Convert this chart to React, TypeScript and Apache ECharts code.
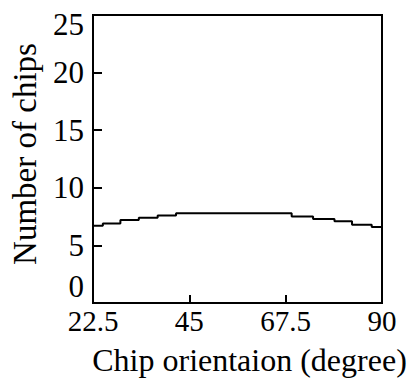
import React, { useEffect, useRef } from "react";
import * as echarts from "echarts";

const xTicks = [22.5, 45, 67.5, 90];
const yTicks = [0, 5, 10, 15, 20, 25];
const orientation = [22.5, 24.8, 28.9, 33.2, 37.6, 41.9, 68.9, 73.9, 78.9, 83.0, 87.6, 90];
const chips = [6.7, 6.9, 7.2, 7.4, 7.6, 7.8, 7.5, 7.3, 7.1, 6.8, 6.6, 6.6];

const FONT = "Liberation Serif";

export default function App() {
  const ref = useRef<HTMLDivElement>(null);
  useEffect(() => {
    document.body.style.margin = "0";
    const chart = echarts.init(ref.current!, null, { renderer: "svg" });
    chart.setOption({
      animation: false,
      backgroundColor: "#fff",
      textStyle: { fontFamily: FONT, color: "#000" },
      grid: {
        left: 87,
        right: 29,
        top: 15,
        bottom: 73,
        show: true,
        borderColor: "#000",
        borderWidth: 2,
      },
      xAxis: {
        type: "value",
        min: xTicks[0],
        max: xTicks[xTicks.length - 1],
        interval: xTicks[1] - xTicks[0],
        splitLine: { show: false },
        axisLine: { show: true, lineStyle: { color: "#000", width: 2 } },
        axisTick: { show: true, inside: true, length: 8, lineStyle: { color: "#000", width: 2 } },
        axisLabel: { color: "#000", fontFamily: FONT, fontSize: 29, margin: 3 },
        name: "Chip orientaion (degree)",
        nameLocation: "middle",
        nameGap: 41,
        nameTextStyle: {
          color: "#000",
          fontFamily: FONT,
          fontSize: 32,
          padding: [0, 0, 0, 24],
        },
      },
      yAxis: {
        type: "value",
        min: yTicks[0],
        max: yTicks[yTicks.length - 1],
        interval: yTicks[1] - yTicks[0],
        splitLine: { show: false },
        axisLine: { show: true, lineStyle: { color: "#000", width: 2 } },
        axisTick: { show: true, inside: true, length: 9, lineStyle: { color: "#000", width: 2 } },
        axisLabel: {
          color: "#000",
          fontFamily: FONT,
          fontSize: 31,
          margin: 9,
          formatter: (v: number) =>
            v === 0 ? "{lo|0}" : v === 25 ? "{hi|25}" : String(v),
          rich: {
            lo: { color: "#000", fontFamily: FONT, fontSize: 31, padding: [0, 0, 34, 0] },
            hi: { color: "#000", fontFamily: FONT, fontSize: 31, padding: [18, 0, 0, 0] },
          },
        },
        name: "Number of chips",
        nameLocation: "middle",
        nameGap: 52,
        nameTextStyle: { color: "#000", fontFamily: FONT, fontSize: 33, padding: [0, 0, 0, 10] },
      },
      series: [
        {
          type: "line",
          step: "end",
          symbol: "none",
          data: orientation.map((x, i) => [x, chips[i]]),
          lineStyle: { color: "#000", width: 2 },
        },
      ],
    });
    return () => chart.dispose();
  }, []);
  return (
    <>
      <style>{`#chart svg text, #chart svg tspan { font-family: "Liberation Serif", "Times New Roman", serif !important; fill: #000 !important; }`}</style>
      <div id="chart" ref={ref} style={{ width: 411, height: 381 }} />
    </>
  );
}
